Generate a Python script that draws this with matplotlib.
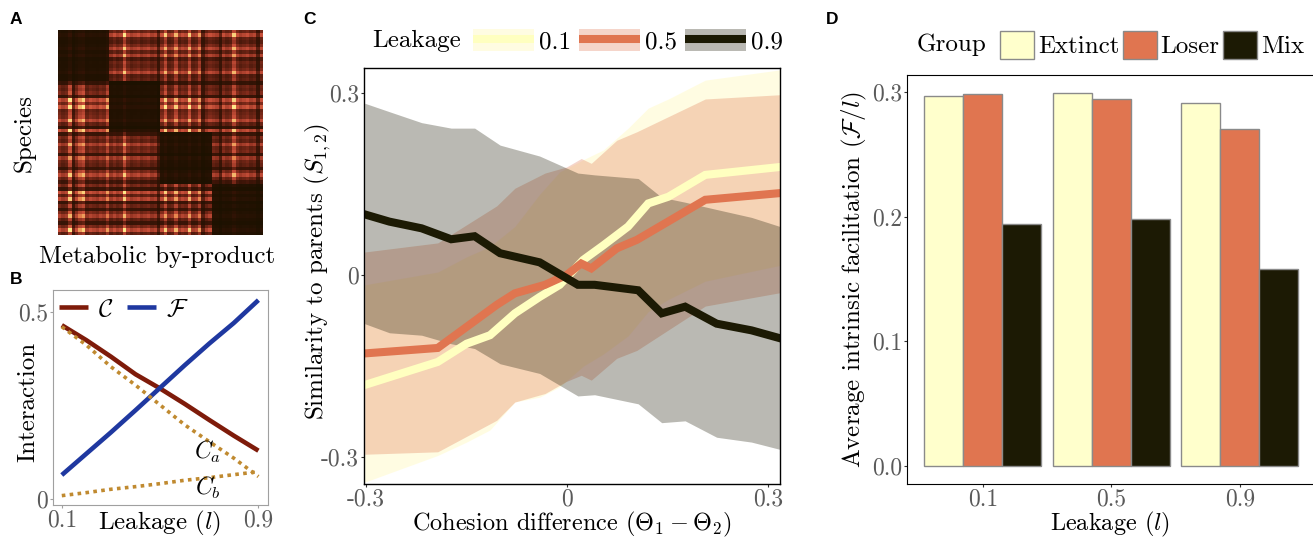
import numpy as np
import matplotlib
matplotlib.use("Agg")
import matplotlib.pyplot as plt
from matplotlib.colors import LinearSegmentedColormap
from matplotlib.patches import Patch
from matplotlib.lines import Line2D

plt.rcParams["font.family"] = "serif"
plt.rcParams["font.serif"] = ["cmr10", "DejaVu Serif"]
plt.rcParams["mathtext.fontset"] = "cm"
plt.rcParams["axes.unicode_minus"] = False
plt.rcParams["axes.formatter.use_mathtext"] = True

FS = 18
TICK_FS = 17
TICK_COL = "#5a5a5a"

# ---------------- panel A: species x by-product matrix ----------------
row_w = [0.55, 0.95, 0.50, 0.45, 0.60, 0.90, 0.50, 0.85, 0.40, 0.55, 0.50, 0.60, 0.90, 0.45, 0.50,
         0.25, 0.55, 0.50, 0.60, 0.30, 0.95, 0.60, 1.00, 0.50, 0.55, 0.60, 0.90, 0.50, 0.25, 0.95,
         0.30, 0.60, 0.50, 0.85, 0.55, 0.60, 0.30, 0.80, 0.55, 0.50, 0.30, 0.60, 0.90, 0.55, 0.35,
         0.60, 0.30, 0.95, 0.50, 0.90, 0.30, 0.55, 0.30, 0.60, 0.85, 0.50, 0.30, 0.60, 0.95, 0.50]
col_w = [0.60, 0.50, 0.55, 1.00, 0.35, 0.60, 0.85, 0.95, 0.50, 0.60, 0.55, 0.50, 0.60, 0.55, 0.85,
         0.50, 0.60, 0.50, 0.55, 1.00, 0.60, 0.50, 0.55, 0.60, 0.50, 0.55, 0.60, 0.50, 0.55, 0.30,
         0.60, 0.95, 0.50, 0.55, 0.90, 0.50, 0.60, 0.55, 0.95, 0.50, 0.55, 0.85, 0.30, 0.50, 0.60,
         0.55, 0.50, 0.30, 0.60, 0.50, 0.55, 0.95, 0.60, 0.50, 0.55, 0.60, 0.50, 0.55, 0.30, 0.60]
n_groups = 4
self_use = 0.15  # by-products a group makes itself are barely consumed

# ---------------- panel B: interaction vs leakage ----------------
leak_b = [0.1, 0.2, 0.3, 0.4, 0.5, 0.6, 0.7, 0.8, 0.9]
comp_c = [0.464, 0.424, 0.380, 0.333, 0.295, 0.254, 0.211, 0.169, 0.129]
facil_f = [0.064, 0.121, 0.178, 0.237, 0.297, 0.357, 0.415, 0.470, 0.531]
comp_a = [0.460, 0.411, 0.353, 0.304, 0.251, 0.198, 0.153, 0.109, 0.060]
comp_b = [0.009, 0.017, 0.026, 0.033, 0.041, 0.050, 0.057, 0.065, 0.073]

# ---------------- panel C: similarity vs cohesion difference ----------------
x_01 = [-0.302, -0.193, -0.150, -0.115, -0.078, -0.041, -0.011, 0.024, 0.054, 0.091, 0.121, 0.151, 0.206, 0.3175]
m_01 = [-0.181, -0.143, -0.113, -0.099, -0.063, -0.036, -0.016, 0.025, 0.049, 0.080, 0.118, 0.129, 0.165, 0.178]
hi_01 = [-0.016, 0.005, 0.030, 0.047, 0.080, 0.133, 0.170, 0.190, 0.206, 0.242, 0.275, 0.290, 0.321, 0.338]
lo_01 = [-0.341, -0.297, -0.275, -0.255, -0.209, -0.201, -0.184, -0.150, -0.130, -0.100, -0.060, -0.040, -0.010, 0.016]

x_05 = [-0.302, -0.193, -0.105, -0.078, -0.033, -0.001, 0.021, 0.036, 0.074, 0.104, 0.206, 0.3175]
m_05 = [-0.129, -0.120, -0.049, -0.030, -0.016, 0.000, 0.019, 0.011, 0.044, 0.058, 0.124, 0.135]
hi_05 = [0.038, 0.053, 0.114, 0.143, 0.168, 0.178, 0.192, 0.184, 0.222, 0.236, 0.290, 0.297]
lo_05 = [-0.295, -0.291, -0.239, -0.209, -0.195, -0.175, -0.165, -0.173, -0.137, -0.124, -0.051, -0.029]

x_09 = [-0.302, -0.265, -0.217, -0.173, -0.138, -0.100, -0.041, 0.016, 0.041, 0.106, 0.141, 0.176, 0.223, 0.275, 0.3175]
m_09 = [0.100, 0.088, 0.077, 0.059, 0.064, 0.036, 0.021, -0.016, -0.016, -0.025, -0.063, -0.052, -0.080, -0.091, -0.104]
hi_09 = [0.283, 0.269, 0.251, 0.242, 0.242, 0.214, 0.196, 0.168, 0.165, 0.159, 0.128, 0.120, 0.108, 0.095, 0.080]
lo_09 = [-0.080, -0.095, -0.099, -0.113, -0.121, -0.146, -0.162, -0.199, -0.197, -0.212, -0.243, -0.240, -0.267, -0.275, -0.287]

leak_levels = ["0.1", "0.5", "0.9"]
leak_colors = ["#ffffc0", "#e07550", "#1c1a04"]
ribbon_colors = ["#fff8a0", "#e07550", "#1c1a04"]

# ---------------- panel D: facilitation by group ----------------
groups = ["Extinct", "Loser", "Mix"]
group_colors = ["#ffffcc", "#e07550", "#1c1a04"]
facil_extinct = [0.297, 0.299, 0.291]
facil_loser = [0.298, 0.294, 0.270]
facil_mix = [0.194, 0.198, 0.158]


def px_box(left, top, right, bottom, W=1313, H=537):
    return [left / W, 1 - bottom / H, (right - left) / W, (bottom - top) / H]


def style_ticks(ax, color="#333333"):
    ax.tick_params(labelsize=TICK_FS, labelcolor=TICK_COL, length=2.5, width=0.8, color=color, pad=1)


def place_labels(ax, xl, yl):
    ax.xaxis.label.set_va("center")
    ax.yaxis.label.set_va("center")
    ax.xaxis.set_label_coords(*xl)
    ax.yaxis.set_label_coords(*yl)


fig = plt.figure(figsize=(13.13, 5.37), dpi=100)

# panel A
axA = fig.add_axes(px_box(58, 30, 263, 235))
mat = np.outer(row_w, col_w)
size = len(row_w) // n_groups
for g in range(n_groups):
    mat[g * size:(g + 1) * size, g * size:(g + 1) * size] *= self_use
cmap_a = LinearSegmentedColormap.from_list(
    "heat", ["#1a1100", "#3e1508", "#8a2e1e", "#c8503a", "#e8844c", "#ffe98a"])
axA.imshow(mat, cmap=cmap_a, vmin=0, vmax=0.95, aspect="auto", interpolation="nearest")
axA.set_xticks([])
axA.set_yticks([])
for s in axA.spines.values():
    s.set_visible(False)
axA.set_ylabel("Species", fontsize=FS)
axA.set_xlabel("Metabolic by-product", fontsize=FS)
place_labels(axA, (0.483, -0.107), (-0.166, 0.5))

# panel B
axB = fig.add_axes(px_box(52.7, 290, 268, 505))
axB.plot(leak_b, comp_c, color="#7e1b0a", lw=3.3, label=r"$\mathcal{C}$", solid_capstyle="butt")
axB.plot(leak_b, facil_f, color="#1f38a0", lw=3.3, label=r"$\mathcal{F}$", solid_capstyle="butt")
axB.plot(leak_b, comp_a, color="#c08a30", lw=2.6, ls=(0, (1, 1.2)))
axB.plot(leak_b, comp_b, color="#c08a30", lw=2.6, ls=(0, (1, 1.2)))
axB.text(0.695, 0.125, r"$C_a$", fontsize=FS - 1, ha="center", va="center")
axB.text(0.695, 0.030, r"$C_b$", fontsize=FS - 1, ha="center", va="center")
axB.set_xlim(0.063, 0.939)
axB.set_ylim(-0.016, 0.558)
axB.set_xticks([0.1, 0.9])
axB.set_xticklabels(["0.1", "0.9"])
axB.set_yticks([0, 0.5])
axB.set_yticklabels(["0", "0.5"])
for s in axB.spines.values():
    s.set_color("#a0a0a0")
    s.set_linewidth(0.8)
style_ticks(axB, "#a0a0a0")
axB.set_ylabel("Interaction", fontsize=FS)
axB.set_xlabel(r"Leakage ($l$)", fontsize=FS)
place_labels(axB, (0.498, -0.085), (-0.115, 0.479))
axB.legend(loc="center left", bbox_to_anchor=(0.03, 0.907), ncol=2, frameon=False,
           fontsize=FS, handlelength=1.15, handletextpad=0.4, columnspacing=0.55,
           borderpad=0, borderaxespad=0)

# panel C
axC = fig.add_axes(px_box(364, 68, 780, 484))
series = [(x_01, m_01, lo_01, hi_01), (x_05, m_05, lo_05, hi_05), (x_09, m_09, lo_09, hi_09)]
for (xs, m, lo, hi), col in zip(series, ribbon_colors):
    axC.fill_between(xs, lo, hi, color=col, alpha=0.3, lw=0)
for (xs, m, lo, hi), col in zip(series, leak_colors):
    axC.plot(xs, m, color=col, lw=5.8, solid_joinstyle="miter")
axC.set_xlim(-0.303, 0.3175)
axC.set_ylim(-0.344, 0.341)
axC.set_xticks([-0.3, 0, 0.3])
axC.set_xticklabels(["-0.3", "0", "0.3"])
axC.set_yticks([-0.3, 0, 0.3])
axC.set_yticklabels(["-0.3", "0", "0.3"])
style_ticks(axC)
for s in axC.spines.values():
    s.set_linewidth(1.0)
axC.set_ylabel(r"Similarity to parents ($S_{1,2}$)", fontsize=FS)
axC.set_xlabel(r"Cohesion difference ($\Theta_1 - \Theta_2$)", fontsize=FS - 0.5)
place_labels(axC, (0.5, -0.098), (-0.111, 0.51))
handles_c = [(Patch(facecolor=rc, alpha=0.3, lw=0),
              Line2D([], [], color=c, lw=5.8, solid_capstyle="butt"))
             for c, rc in zip(leak_colors, ribbon_colors)]
axC.legend(handles_c, leak_levels, loc="center left", bbox_to_anchor=(473 / 1313, 1 - 41 / 537),
           bbox_transform=fig.transFigure, ncol=3, frameon=False, fontsize=FS,
           handlelength=2.45, handleheight=1.0, handletextpad=0.2, columnspacing=0.3,
           borderpad=0, borderaxespad=0)
fig.text(372 / 1313, 1 - 41 / 537, "Leakage", fontsize=FS, ha="left", va="center")

# panel D
axD = fig.add_axes(px_box(907, 75, 1317, 484))
pos = np.arange(1, 4)
bw = 0.303
for k, (vals, col) in enumerate(zip([facil_extinct, facil_loser, facil_mix], group_colors)):
    axD.bar(pos + (k - 1) * bw, vals, width=bw, color=col, edgecolor="#8a8a8a", lw=1.0, label=groups[k])
axD.set_xlim(0.41, 3.6)
axD.set_ylim(-0.0145, 0.3136)
axD.set_xticks(pos)
axD.set_xticklabels(leak_levels)
axD.set_yticks([0.0, 0.1, 0.2, 0.3])
axD.set_yticklabels(["0.0", "0.1", "0.2", "0.3"])
style_ticks(axD)
axD.spines["right"].set_visible(False)
axD.set_ylabel(r"Average intrinsic facilitation ($\mathcal{F}/l$)", fontsize=FS)
axD.set_xlabel(r"Leakage ($l$)", fontsize=FS - 0.5)
place_labels(axD, (0.495, -0.099), (-0.127, 0.5))
axD.legend(loc="center left", bbox_to_anchor=(1000 / 1313, 1 - 45 / 537),
           bbox_transform=fig.transFigure, ncol=3, frameon=False, fontsize=FS,
           handlelength=1.36, handleheight=1.36, handletextpad=0.15, columnspacing=0.15,
           borderpad=0, borderaxespad=0)
fig.text(917 / 1313, 1 - 45 / 537, "Group", fontsize=FS, ha="left", va="center")

# panel letters
for letter, (x, y) in zip("ABCD", [(16, 20), (16, 280), (310, 20), (832, 20)]):
    fig.text(x / 1313, 1 - y / 537, letter, fontsize=12.5, fontweight="bold",
             family="Liberation Sans", ha="center", va="center")

fig.savefig("out.png", dpi=100)
